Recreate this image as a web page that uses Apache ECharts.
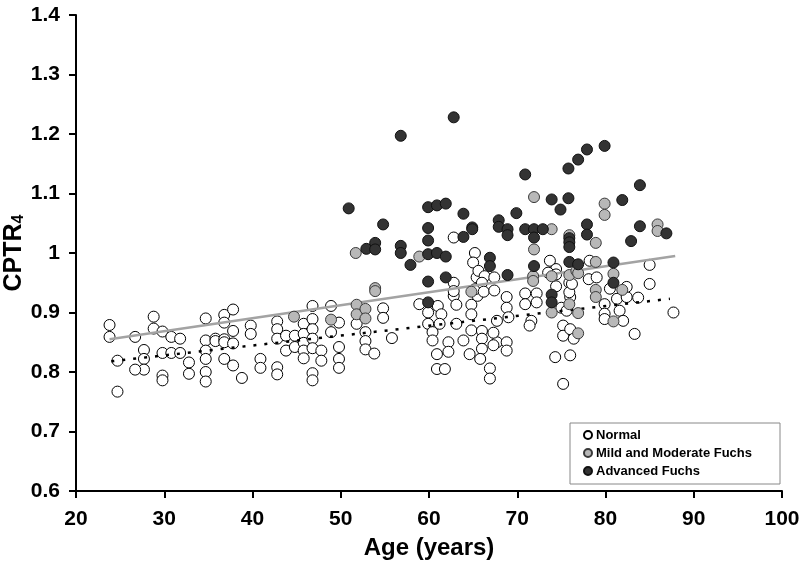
<!DOCTYPE html>
<html>
<head>
<meta charset="utf-8">
<script src="https://cdn.jsdelivr.net/npm/echarts@6/dist/echarts.min.js"></script>
<style>html,body{margin:0;padding:0;background:#fff;}#c{width:800px;height:567px;}</style>
</head>
<body>
<div id="c"></div>
<script>
// ---- data (age in years, CPTR4) ----
var normalPoints = [
[23.8,0.879],[23.8,0.859],[24.7,0.819],[24.7,0.767],[26.7,0.859],[28.8,0.893],[28.8,0.873],[29.8,0.868],[30.8,0.859],[31.8,0.856],
[27.7,0.837],[27.7,0.822],[27.7,0.804],[26.7,0.804],[29.8,0.832],[30.8,0.832],[31.8,0.832],[32.8,0.816],[32.8,0.797],[29.8,0.794],
[29.8,0.786],[34.7,0.890],[34.7,0.853],[34.7,0.836],[34.7,0.822],[34.7,0.800],[34.7,0.784],[35.8,0.856],[35.8,0.852],[36.8,0.896],
[36.8,0.883],[36.8,0.855],[36.8,0.850],[36.8,0.822],[37.8,0.905],[37.8,0.869],[37.8,0.848],[37.8,0.811],[38.8,0.790],[39.8,0.878],
[39.8,0.864],[40.9,0.822],[40.9,0.807],[42.8,0.885],[42.8,0.872],[42.8,0.856],[42.8,0.808],[42.8,0.796],[43.8,0.861],[43.8,0.836],
[44.8,0.861],[44.8,0.842],[45.8,0.881],[45.8,0.864],[45.8,0.849],[45.8,0.836],[45.8,0.823],[46.8,0.911],[46.8,0.889],[46.8,0.872],
[46.8,0.856],[46.8,0.840],[46.8,0.798],[46.8,0.786],[47.8,0.836],[47.8,0.819],[48.9,0.911],[48.9,0.867],[49.8,0.883],[49.8,0.842],
[49.8,0.822],[49.8,0.807],[51.8,0.881],[52.8,0.867],[52.8,0.852],[52.8,0.838],[53.8,0.831],[54.8,0.907],[54.8,0.891],[55.8,0.857],
[58.9,0.914],[59.9,0.900],[59.9,0.881],[60.4,0.867],[60.4,0.853],[60.9,0.830],[60.9,0.805],[61.8,0.805],[61.0,0.911],[61.4,0.897],
[61.2,0.881],[62.2,0.850],[62.2,0.834],[62.8,0.950],[62.8,0.928],[63.1,0.913],[63.1,0.881],[63.9,0.853],[64.6,0.830],[64.8,0.913],
[64.8,0.897],[64.8,0.870],[65.4,0.959],[65.5,0.928],[62.8,1.026],[65.2,1.000],[65.0,0.984],[65.6,0.970],[66.3,0.961],[65.2,0.939],
[62.8,0.936],[66.0,0.950],[67.4,0.959],[66.2,0.935],[67.4,0.937],[68.8,0.926],[68.8,0.908],[69.0,0.892],[70.9,0.932],[72.2,0.932],
[70.9,0.914],[72.2,0.917],[71.6,0.886],[71.4,0.878],[67.7,0.886],[66.0,0.869],[66.0,0.856],[66.0,0.839],[65.8,0.822],[67.7,0.850],
[68.8,0.850],[68.8,0.836],[66.9,0.806],[66.9,0.789],[67.3,0.866],[67.3,0.845],[74.3,0.825],[76.0,0.828],[75.2,0.780],[75.2,0.878],
[75.2,0.861],[76.0,0.872],[76.4,0.856],[74.4,0.944],[76.0,0.926],[75.0,0.908],[75.6,0.903],[73.7,0.987],[74.4,0.973],[73.5,0.967],
[74.4,0.964],[75.9,0.950],[75.9,0.934],[76.2,0.948],[78.1,0.956],[79.0,0.959],[78.2,0.987],[79.9,0.914],[79.9,0.898],[79.9,0.889],
[81.6,0.903],[82.0,0.886],[80.5,0.940],[81.3,0.923],[82.4,0.926],[82.4,0.943],[83.7,0.925],[85.0,0.948],[85.0,0.980],[83.3,0.864],
[87.7,0.900]
];
var mildPoints = [
[44.7,0.893],[48.9,0.888],[51.8,0.913],[51.8,0.897],[52.8,0.906],[52.8,0.890],[53.9,0.941],[53.9,0.936],[51.7,1.000],[58.9,0.994],
[64.8,0.935],[71.8,0.961],[71.8,0.953],[71.9,1.094],[71.9,1.006],[73.9,1.040],[73.9,0.961],[73.9,0.900],[75.9,0.963],[75.9,0.914],
[75.9,1.030],[76.7,0.970],[76.9,0.966],[76.9,0.899],[76.9,0.865],[78.9,0.938],[78.9,0.926],[78.9,1.017],[78.9,0.985],[79.9,1.083],
[79.9,1.064],[80.9,0.965],[80.9,0.885],[81.9,0.938],[85.9,1.048],[85.9,1.037]
];
var advancedPoints = [
[50.9,1.075],[52.9,1.007],[53.9,1.017],[53.9,1.006],[54.8,1.048],[56.8,1.197],[56.8,1.012],[56.8,1.000],[57.9,0.980],[59.9,1.077],
[59.9,1.042],[59.9,1.021],[59.9,0.998],[59.9,0.952],[59.9,0.917],[60.9,1.080],[60.9,1.000],[61.9,1.083],[61.9,0.994],[61.9,0.959],
[62.8,1.228],[63.9,1.066],[63.9,1.027],[64.9,1.043],[64.9,1.040],[66.9,0.992],[66.9,0.978],[67.9,1.055],[67.9,1.044],[68.9,1.040],
[68.9,1.030],[68.9,0.963],[69.9,1.067],[70.9,1.132],[70.9,1.040],[71.9,1.040],[71.9,1.026],[71.9,0.978],[72.9,1.040],[73.9,1.090],
[73.9,0.930],[73.9,0.917],[74.9,1.073],[75.8,1.142],[75.8,1.092],[75.9,1.025],[75.9,1.018],[75.9,1.010],[75.9,0.985],[76.9,1.157],
[76.9,0.981],[77.9,1.174],[77.9,1.048],[77.9,1.031],[79.9,1.180],[80.9,0.984],[80.9,0.950],[81.9,1.089],[82.9,1.020],[83.9,1.114],
[83.9,1.045],[86.9,1.033]
];
// regression line end points
var fitAllAge = [23.8, 87.9];
var fitAllValue = [0.855, 0.995];
var fitNormalAge = [24.0, 87.3];
var fitNormalValue = [0.818, 0.923];
var xTicks = [20, 100, 10];
var yTicks = [0.6, 1.4, 0.1];
var seriesNames = ['Normal', 'Mild and Moderate Fuchs', 'Advanced Fuchs'];

function pairs(xs, ys){ return xs.map(function(x,i){ return [x, ys[i]]; }); }

var FONT = '"Liberation Sans", Arial, sans-serif';
var chart = echarts.init(document.getElementById('c'), null, {renderer:'canvas'});
chart.setOption({
  animation: false,
  backgroundColor: '#ffffff',
  grid: {left: 76, right: 18, top: 15, bottom: 76, containLabel: false, outerBoundsMode: 'none'},
  legend: {
    orient: 'vertical',
    left: 570, top: 423,
    data: seriesNames,
    backgroundColor: '#ffffff',
    borderColor: '#888888', borderWidth: 1, borderRadius: 0,
    padding: [5, 28, 6, 13],
    itemWidth: 8, itemHeight: 8, itemGap: 4,
    icon: 'circle',
    textStyle: {fontFamily: FONT, fontWeight: 'bold', fontSize: 13, color: '#000', lineHeight: 14, padding: [0,0,0,-1]}
  },
  xAxis: {
    type: 'value', min: xTicks[0], max: xTicks[1], interval: xTicks[2],
    name: 'Age (years)', nameLocation: 'middle', nameGap: 45, nameMoveOverlap: false,
    nameTextStyle: {fontFamily: FONT, fontWeight: 'bold', fontSize: 24, color: '#000'},
    axisLine: {lineStyle: {color: '#000', width: 2}},
    axisTick: {inside: false, length: 7, lineStyle: {color: '#000', width: 2}},
    axisLabel: {fontFamily: FONT, fontWeight: 'bold', fontSize: 21, color: '#000', margin: 18},
    splitLine: {show: false}
  },
  yAxis: {
    type: 'value', min: yTicks[0], max: yTicks[1], interval: yTicks[2],
    name: 'CPTR{s|4}', nameLocation: 'middle', nameGap: 49, nameRotate: 90, nameMoveOverlap: false,
    nameTextStyle: {fontFamily: FONT, fontWeight: 'bold', fontSize: 25, color: '#000',
      rich: {s: {fontFamily: FONT, fontWeight: 'bold', fontSize: 16, color: '#000', padding: [9,0,0,0]}}},
    axisLine: {show: true, lineStyle: {color: '#000', width: 2}},
    axisTick: {show: true, inside: false, length: 7, lineStyle: {color: '#000', width: 2}},
    axisLabel: {fontFamily: FONT, fontWeight: 'bold', fontSize: 21, color: '#000', margin: 16,
      formatter: function(v){ return String(+v.toFixed(1)); }},
    splitLine: {show: false}
  },
  series: [
    {name: seriesNames[0], type: 'scatter', data: normalPoints, symbol: 'circle', symbolSize: 11, z: 2,
      itemStyle: {color: '#ffffff', borderColor: '#000000', borderWidth: 1, opacity: 1}},
    {name: 'fitAll', type: 'line', data: pairs(fitAllAge, fitAllValue), showSymbol: false, symbol: 'none', z: 3, silent: true,
      lineStyle: {color: '#a3a3a3', width: 2.5}},
    {name: 'fitNormal', type: 'line', data: pairs(fitNormalAge, fitNormalValue), showSymbol: false, symbol: 'none', z: 3, silent: true,
      lineStyle: {color: '#000000', width: 2.5, type: [3, 8]}},
    {name: seriesNames[1], type: 'scatter', data: mildPoints, symbol: 'circle', symbolSize: 11, z: 4,
      itemStyle: {color: '#b8b8b8', borderColor: '#3a3a3a', borderWidth: 1, opacity: 1}},
    {name: seriesNames[2], type: 'scatter', data: advancedPoints, symbol: 'circle', symbolSize: 11, z: 5,
      itemStyle: {color: '#333333', borderColor: '#111111', borderWidth: 1, opacity: 1}}
  ]
});
</script>
</body>
</html>
